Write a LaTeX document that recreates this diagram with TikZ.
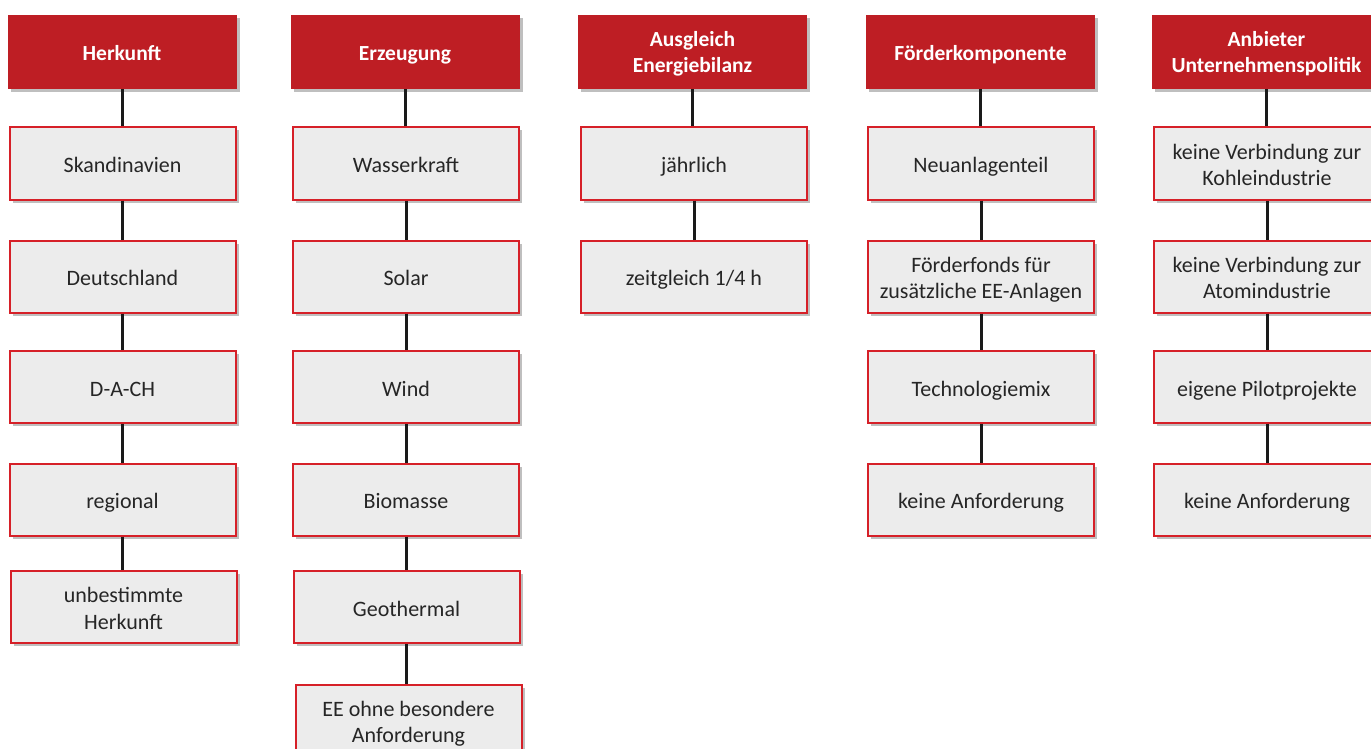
\documentclass[tikz,border=0pt]{standalone}
\usepackage{fontspec}
\setmainfont{Carlito}
\usetikzlibrary{shadows}
\definecolor{hdrred}{RGB}{190,30,36}
\definecolor{boxred}{RGB}{214,32,40}
\definecolor{boxfill}{RGB}{236,236,236}
\definecolor{txt}{RGB}{38,38,38}
\definecolor{conn}{RGB}{26,26,26}
\newcommand{\boxone}[1]{\raisebox{-9pt}[0pt][0pt]{#1}}
\newcommand{\boxtwo}[2]{\raisebox{4.2pt}[0pt][0pt]{\begin{tabular}[t]{@{}c@{}}#1\\#2\end{tabular}}}
\newcommand{\hdrone}[1]{\raisebox{-9pt}[0pt][0pt]{#1}}
\newcommand{\hdrtwo}[2]{\raisebox{5.3pt}[0pt][0pt]{\begin{tabular}[t]{@{}c@{}}#1\\#2\end{tabular}}}
\tikzset{
  header/.style={draw=none, fill=hdrred, text=white, font=\fontsize{21.5}{26}\selectfont\bfseries,
    minimum width=229pt, minimum height=74pt, inner sep=0pt,
    drop shadow={shadow xshift=3pt, shadow yshift=-3pt, opacity=0.25, fill=black}},
  item/.style={draw=boxred, line width=2pt, fill=boxfill, text=txt, font=\fontsize{22}{26.5}\selectfont,
    minimum width=226pt, minimum height=72pt, inner sep=0pt,
    drop shadow={shadow xshift=3pt, shadow yshift=-3pt, opacity=0.25, fill=black}},
  link/.style={draw=conn, line width=3pt}
}
\begin{document}
\begin{tikzpicture}[x=1pt,y=-1pt]
\clip (0,0) rectangle (1371,749);
\fill[white] (0,0) rectangle (1371,749);
% column 1
\node[header] (h1) at (122,52) {\hdrone{Herkunft}};
\node[item] (a1) at (122.5,163.5) {\boxone{Skandinavien}};
\node[item] (a2) at (122.5,276.5) {\boxone{Deutschland}};
\node[item] (a3) at (122.5,387) {\boxone{D-A-CH}};
\node[item] (a4) at (122.5,499.5) {\boxone{regional}};
\node[item] (a5) at (123.5,607) {\boxtwo{unbestimmte}{Herkunft}};
% column 2
\node[header] (h2) at (405,52) {\hdrone{Erzeugung}};
\node[item] (b1) at (406,163.5) {\boxone{Wasserkraft}};
\node[item] (b2) at (406,276.5) {\boxone{Solar}};
\node[item] (b3) at (406,387) {\boxone{Wind}};
\node[item] (b4) at (406,499.5) {\boxone{Biomasse}};
\node[item] (b5) at (406.5,607) {\boxone{Geothermal}};
\node[item] (b6) at (408.5,720.5) {\boxtwo{EE ohne besondere}{Anforderung}};
% column 3
\node[header] (h3) at (692.5,52) {\hdrtwo{Ausgleich}{Energiebilanz}};
\node[item] (c1) at (694,163.5) {\boxone{jährlich}};
\node[item] (c2) at (694,276.5) {\boxone{zeitgleich 1/4 h}};
% column 4
\node[header] (h4) at (980.5,52) {\hdrone{Förderkomponente}};
\node[item] (d1) at (981,163.5) {\boxone{Neuanlagenteil}};
\node[item] (d2) at (981,276.5) {\boxtwo{Förderfonds für}{zusätzliche EE-Anlagen}};
\node[item] (d3) at (981,387) {\boxone{Technologiemix}};
\node[item] (d4) at (981,499.5) {\boxone{keine Anforderung}};
% column 5
\node[header] (h5) at (1266.5,52) {\hdrtwo{Anbieter}{Unternehmenspolitik}};
\node[item] (e1) at (1267,163.5) {\boxtwo{keine Verbindung zur}{Kohleindustrie}};
\node[item] (e2) at (1267,276.5) {\boxtwo{keine Verbindung zur}{Atomindustrie}};
\node[item] (e3) at (1267,387) {\boxone{eigene Pilotprojekte}};
\node[item] (e4) at (1267,499.5) {\boxone{keine Anforderung}};
% connectors
\foreach \u/\v in {h1/a1,a1/a2,a2/a3,a3/a4,a4/a5,
                   h2/b1,b1/b2,b2/b3,b3/b4,b4/b5,b5/b6,
                   h3/c1,c1/c2,
                   h4/d1,d1/d2,d2/d3,d3/d4,
                   h5/e1,e1/e2,e2/e3,e3/e4}
  \draw[link] (\u.south) -- (\u.south |- \v.north);
\end{tikzpicture}
\end{document}
